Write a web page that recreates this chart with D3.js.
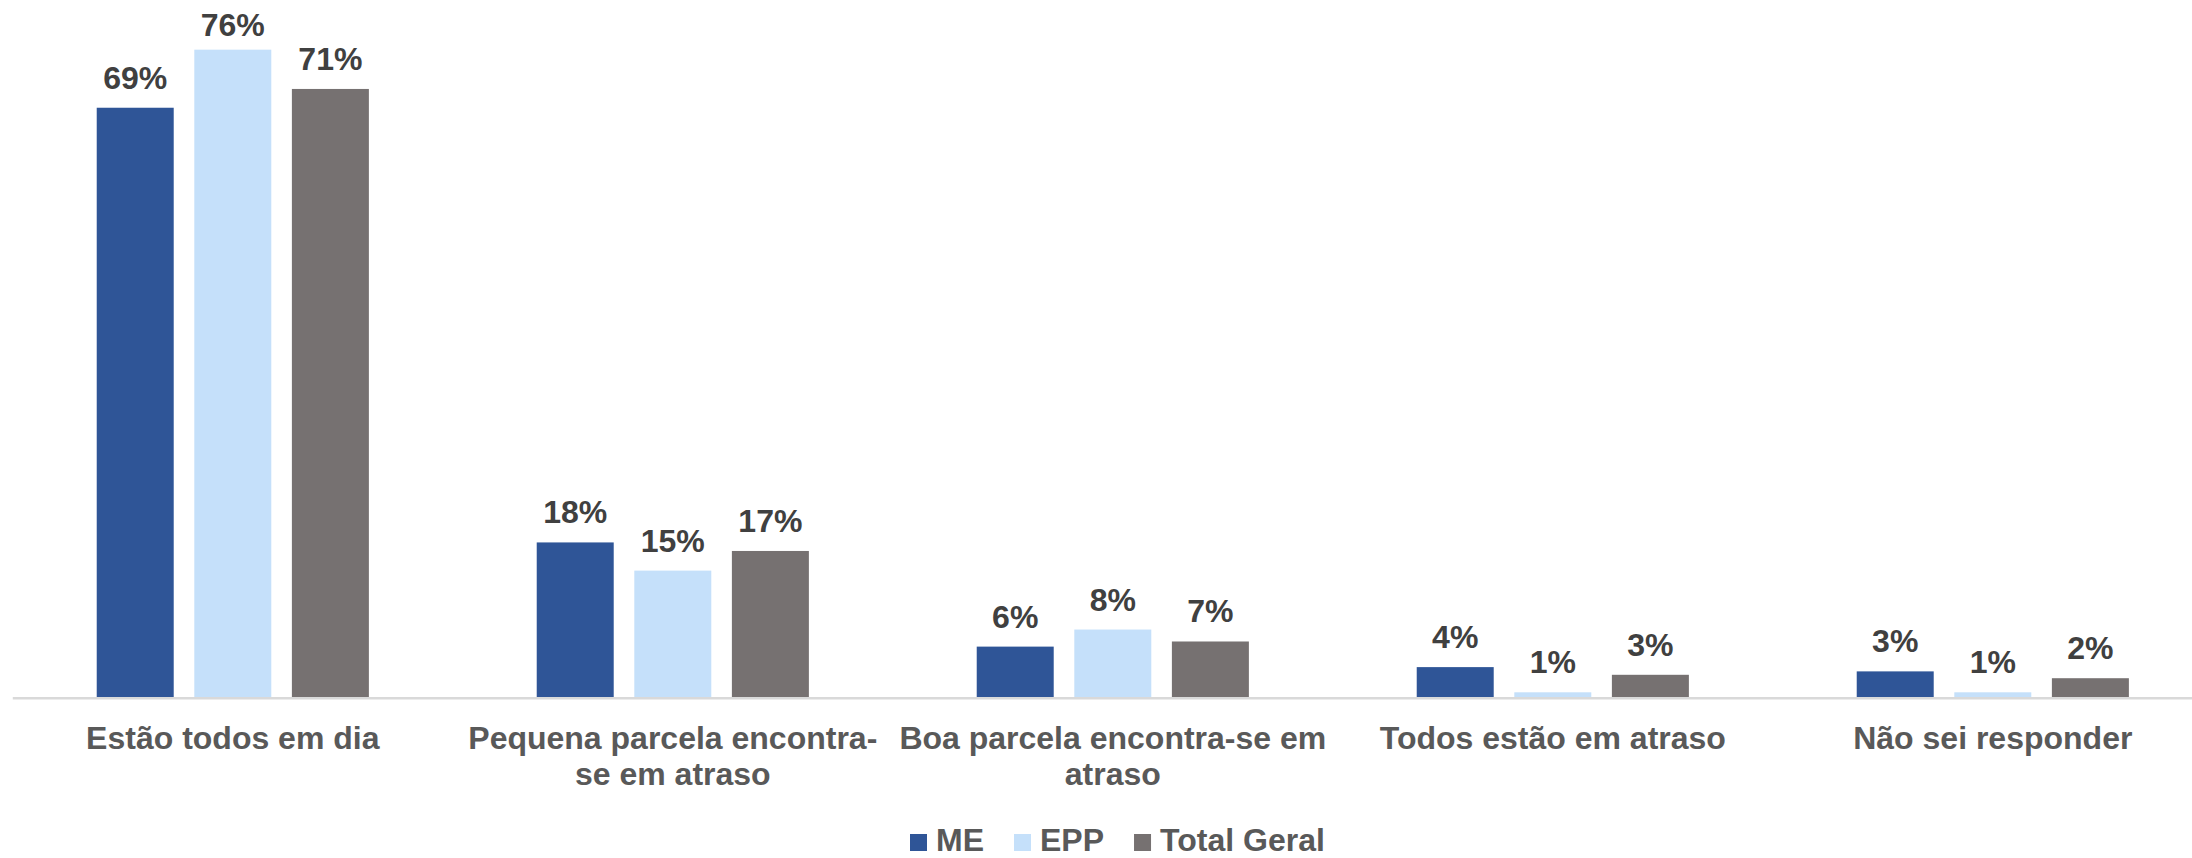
<!DOCTYPE html>
<html lang="pt">
<head>
    <meta charset="UTF-8">
    <script src="https://cdn.jsdelivr.net/npm/d3@7"></script>
    <title>Situação dos pagamentos</title>
    <style>
        body { margin: 0; background: #fff; }
        svg { display: block; font-family: "Liberation Sans", Arial, sans-serif; font-weight: bold; }
        .value-label { fill: #404040; font-size: 32px; }
        .cat-label { fill: #595959; font-size: 32px; }
        .legend-text { fill: #595959; font-size: 32px; }
    </style>
</head>
<body>
<div id="chart"></div>
<script>
    // data (percent)
    const categories = [
        "Estão todos em dia",
        "Pequena parcela encontra-se em atraso",
        "Boa parcela encontra-se em atraso",
        "Todos estão em atraso",
        "Não sei responder"
    ];
    const seriesNames = ["ME", "EPP", "Total Geral"];
    const meValues = [69.0, 18.1, 5.9, 3.5, 3.0];
    const eppValues = [75.8, 14.8, 7.9, 0.55, 0.55];
    const totalValues = [71.2, 17.1, 6.5, 2.6, 2.2];
    const valueLabels = [
        ["69%", "18%", "6%", "4%", "3%"],
        ["76%", "15%", "8%", "1%", "1%"],
        ["71%", "17%", "7%", "3%", "2%"]
    ];
    const colors = ["#2F5597", "#C5E0FA", "#767171"];

    const width = 2192, height = 858;
    const baseline = 697, plotTop = 13.8;
    const allValues = [meValues, eppValues, totalValues];

    const svg = d3.select("#chart").append("svg")
        .attr("width", width)
        .attr("height", height);

    const x0 = d3.scaleBand().domain(categories).range([12.8, 12.8 + 440 * categories.length]).padding(0);
    const x1 = d3.scaleBand().domain(seriesNames).range([0, x0.bandwidth()]).paddingInner(0.211).paddingOuter(0.86);
    const y = d3.scaleLinear().domain([0, 80]).range([baseline, plotTop]);

    // bars
    seriesNames.forEach((name, si) => {
        const g = svg.append("g");
        g.selectAll("rect").data(categories).enter().append("rect")
            .attr("x", c => x0(c) + x1(name))
            .attr("y", (c, i) => y(allValues[si][i]))
            .attr("width", x1.bandwidth())
            .attr("height", (c, i) => baseline - y(allValues[si][i]))
            .attr("fill", colors[si]);

        g.selectAll("text").data(categories).enter().append("text")
            .attr("class", "value-label")
            .attr("x", c => x0(c) + x1(name) + x1.bandwidth() / 2)
            .attr("y", (c, i) => Math.max(y(allValues[si][i]) - 19, 36))
            .attr("text-anchor", "middle")
            .text((c, i) => valueLabels[si][i]);
    });

    // category axis line
    svg.append("line")
        .attr("x1", x0.range()[0]).attr("x2", x0.range()[1])
        .attr("y1", baseline + 1.3).attr("y2", baseline + 1.3)
        .attr("stroke", "#D9D9D9")
        .attr("stroke-width", 2.6);

    // category labels, wrapped to the band width like Excel does
    function wrapLabel(textSel, str, maxW) {
        const tokens = str.match(/[^\s-]+-?\s*/g);
        let lines = [], cur = "";
        const probe = textSel.append("tspan");
        tokens.forEach(tok => {
            const test = cur + tok;
            probe.text(test.trim());
            if (cur && probe.node().getComputedTextLength() > maxW) {
                lines.push(cur.trim());
                cur = tok;
            } else {
                cur = test;
            }
        });
        lines.push(cur.trim());
        probe.remove();
        return lines;
    }

    categories.forEach(c => {
        const t = svg.append("text")
            .attr("class", "cat-label")
            .attr("text-anchor", "middle");
        const lines = wrapLabel(t, c, x0.bandwidth());
        lines.forEach((ln, li) => {
            t.append("tspan")
                .attr("x", x0(c) + x0.bandwidth() / 2)
                .attr("y", 749 + li * 36)
                .text(ln);
        });
    });

    // legend
    const legend = svg.append("g").attr("transform", "translate(910, 851)");
    let lx = 0;
    seriesNames.forEach((name, si) => {
        legend.append("rect")
            .attr("x", lx).attr("y", -17)
            .attr("width", 17).attr("height", 17)
            .attr("fill", colors[si]);
        const txt = legend.append("text")
            .attr("class", "legend-text")
            .attr("x", lx + 26)
            .attr("y", 0)
            .text(name);
        lx += 26 + txt.node().getComputedTextLength() + 30;
    });
</script>
</body>
</html>
